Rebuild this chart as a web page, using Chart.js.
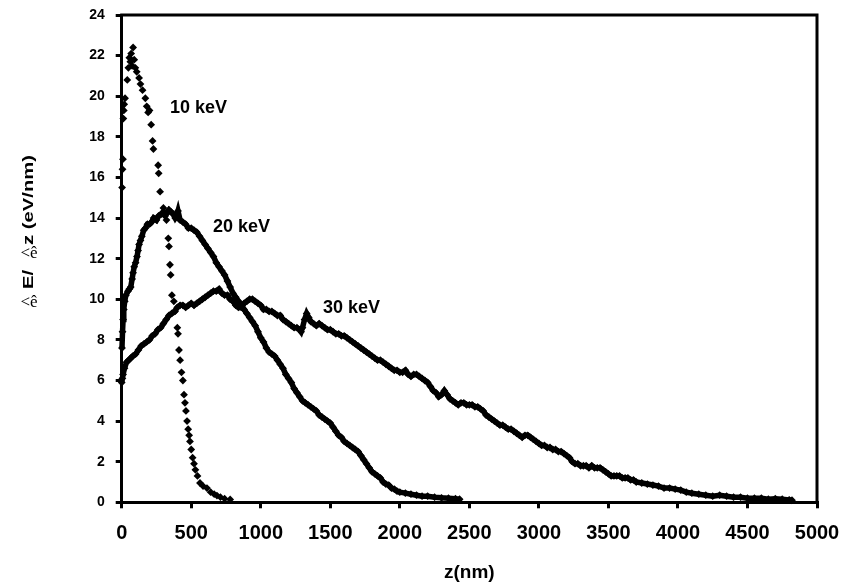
<!DOCTYPE html>
<html>
<head>
<meta charset="utf-8">
<script src="https://cdn.jsdelivr.net/npm/chart.js@4/dist/chart.umd.min.js"></script>
<style>
  html, body { margin: 0; padding: 0; background: #fff; }
  canvas { display: block; }
</style>
</head>
<body>
<canvas id="c" width="841" height="586"></canvas>
<script>
// Energy loss per unit depth, dE/dz (eV/nm), versus depth z (nm)
const kev10 = [
  [3,15.5],[6,16.4],[9,16.9],[12,18.9],[15,19.3],[18,19.6],[24,19.9],
  [40,20.8],[48,21.4],[55,21.9],[62,21.7],[68,22.1],[75,21.5],[82,22.4],[90,21.8],[98,21.4],[108,21.2],
  [125,20.9],[135,20.6],[150,20.3],[170,19.9],[180,19.5],[190,19.2],[200,19.3],[212,18.6],[222,17.8],[228,17.4],
  [262,16.6],[266,16.2],[276,15.3],[300,14.5],[312,14.1],[322,13.9],[335,13.0],[340,12.6],[347,11.7],[352,11.2],
  [361,10.2],[375,9.9],[383,9.4],[400,8.6],[405,8.3],[412,7.5],[420,7.0],[430,6.4],[440,6.0],[448,5.3],
  [455,4.9],[462,4.5],[470,4.0],[478,3.6],[485,3.3],[491,3.0],[500,2.6],[510,2.2],[520,1.9],[530,1.6],
  [545,1.3],[563,0.95],[585,0.8],[613,0.7],[640,0.5],[665,0.4],[685,0.33],[710,0.25],[740,0.18],[780,0.14]
];

const kev20 = [
  [2,7.6],[6,8.4],[10,9.0],[15,9.5],[22,9.9],[30,10.2],[45,10.4],[55,10.5],[65,10.6],[75,11.0],
  [82,11.3],[90,11.6],[100,11.8],[110,12.1],[118,12.4],[125,12.7],[135,12.9],[145,13.1],[158,13.4],[170,13.5],
  [185,13.7],[200,13.7],[215,13.8],[230,14.0],[250,13.9],[265,14.1],[285,14.2],[300,14.3],[320,14.2],[340,14.4],
  [355,14.3],[370,14.2],[385,14.0],[395,14.1],[405,14.35],[420,13.9],[440,13.8],[460,13.7],[480,13.5],[500,13.5],
  [520,13.4],[540,13.3],[560,13.1],[580,12.9],[600,12.7],[620,12.5],[640,12.3],[660,12.1],[680,11.8],[700,11.6],
  [720,11.4],[740,11.2],[760,10.9],[780,10.6],[800,10.3],[820,10.1],[840,9.9],[860,9.7],[880,9.5],[900,9.3],
  [920,9.1],[940,8.9],[960,8.7],[980,8.4],[1000,8.1],[1020,7.9],[1040,7.6],[1060,7.4],[1080,7.3],[1100,7.2],
  [1120,7.0],[1140,6.8],[1160,6.6],[1180,6.3],[1200,6.1],[1220,5.9],[1240,5.6],[1260,5.4],[1280,5.2],[1300,5.0],
  [1320,4.9],[1340,4.8],[1360,4.7],[1380,4.6],[1400,4.5],[1420,4.3],[1440,4.2],[1460,4.1],[1480,4.0],[1500,3.9],
  [1520,3.7],[1540,3.5],[1560,3.3],[1580,3.2],[1600,3.0],[1620,2.9],[1640,2.8],[1660,2.7],[1680,2.6],[1700,2.5],
  [1720,2.3],[1740,2.1],[1760,1.9],[1780,1.7],[1800,1.5],[1820,1.4],[1840,1.3],[1860,1.2],[1880,1.0],[1900,0.9],
  [1920,0.85],[1940,0.7],[1960,0.65],[1980,0.55],[2000,0.5],[2040,0.45],[2080,0.4],[2120,0.35],[2160,0.3],[2200,0.3],
  [2250,0.25],[2300,0.22],[2350,0.2],[2400,0.18],[2430,0.15]
];

const kev30 = [
  [0,5.9],[5,6.1],[10,6.3],[20,6.6],[35,6.9],[50,7.0],[65,7.1],[80,7.2],[100,7.3],[120,7.5],
  [140,7.7],[160,7.8],[180,7.9],[200,8.0],[220,8.2],[240,8.3],[260,8.5],[280,8.6],[300,8.8],[320,9.0],
  [340,9.2],[360,9.3],[380,9.4],[400,9.6],[420,9.7],[440,9.7],[460,9.6],[480,9.7],[500,9.8],[520,9.7],
  [540,9.8],[560,9.9],[580,10.0],[600,10.1],[620,10.2],[640,10.3],[660,10.4],[680,10.4],[700,10.5],[720,10.3],
  [740,10.2],[760,10.2],[780,10.0],[800,9.9],[820,9.7],[840,9.6],[860,9.6],[880,9.8],[900,9.9],[920,10.0],
  [940,10.0],[960,9.9],[980,9.8],[1000,9.7],[1020,9.5],[1040,9.5],[1060,9.4],[1080,9.4],[1100,9.3],[1120,9.2],
  [1140,9.2],[1160,9.0],[1180,8.9],[1200,8.8],[1220,8.7],[1240,8.6],[1260,8.6],[1280,8.5],[1290,8.4],[1300,8.6],
  [1315,9.0],[1330,9.3],[1345,9.1],[1360,8.9],[1380,8.8],[1400,8.7],[1420,8.8],[1440,8.7],[1460,8.6],[1480,8.5],
  [1500,8.5],[1520,8.4],[1540,8.3],[1560,8.3],[1580,8.2],[1600,8.2],[1620,8.1],[1640,8.0],[1660,7.9],[1680,7.8],
  [1700,7.7],[1720,7.6],[1740,7.5],[1760,7.4],[1780,7.3],[1800,7.2],[1820,7.1],[1840,7.0],[1860,7.0],[1880,6.9],
  [1900,6.8],[1920,6.7],[1940,6.6],[1960,6.5],[1980,6.5],[2000,6.4],[2020,6.4],[2040,6.5],[2060,6.3],[2080,6.2],
  [2100,6.3],[2120,6.3],[2140,6.2],[2160,6.1],[2180,6.0],[2200,5.9],[2220,5.7],[2240,5.5],[2260,5.4],[2280,5.2],
  [2300,5.3],[2320,5.5],[2340,5.3],[2360,5.1],[2380,5.0],[2400,4.9],[2420,4.8],[2440,4.9],[2460,4.9],[2480,4.8],
  [2500,4.8],[2520,4.8],[2540,4.7],[2560,4.7],[2580,4.6],[2600,4.5],[2620,4.3],[2640,4.2],[2660,4.1],[2680,4.0],
  [2700,3.9],[2720,3.8],[2740,3.8],[2760,3.7],[2780,3.6],[2800,3.6],[2820,3.5],[2840,3.4],[2860,3.3],[2880,3.2],
  [2900,3.3],[2920,3.3],[2940,3.2],[2960,3.1],[2980,3.0],[3000,2.9],[3020,2.8],[3040,2.8],[3060,2.7],[3080,2.7],
  [3100,2.6],[3120,2.6],[3140,2.5],[3160,2.5],[3180,2.4],[3200,2.3],[3220,2.2],[3240,2.0],[3260,1.9],[3280,1.9],
  [3300,1.8],[3320,1.8],[3340,1.8],[3360,1.7],[3380,1.8],[3400,1.7],[3420,1.7],[3440,1.7],[3460,1.6],[3480,1.5],
  [3500,1.4],[3520,1.3],[3540,1.3],[3560,1.3],[3580,1.3],[3600,1.2],[3620,1.2],[3640,1.2],[3660,1.1],[3680,1.1],
  [3700,1.0],[3740,0.95],[3780,0.9],[3820,0.85],[3860,0.8],[3900,0.7],[3940,0.7],[3980,0.65],[4020,0.6],[4060,0.5],
  [4100,0.45],[4150,0.4],[4200,0.35],[4250,0.3],[4300,0.35],[4350,0.3],[4400,0.25],[4450,0.25],[4500,0.2],[4550,0.2],
  [4600,0.2],[4650,0.15],[4700,0.18],[4750,0.15],[4800,0.12],[4820,0.1]
];

const seriesNames = ['10 keV', '20 keV', '30 keV'];
// where each series name is written, in axis units (left edge, vertical centre)
const labelAnchors = [[347, 19.4], [656, 13.55], [1447, 9.55]];

const SANS = '"Liberation Sans", Arial, Helvetica, sans-serif';
const NARROW = '"Liberation Sans Narrow", "Arial Narrow", "Liberation Sans", Arial, sans-serif';
const SERIF = '"Liberation Serif", "Times New Roman", serif';

const toXY = arr => arr.map(([x, y]) => ({ x, y }));

const frame = {
  id: 'frame',
  afterDatasetsDraw(chart) {
    const { ctx, chartArea: a } = chart;
    ctx.save();
    ctx.strokeStyle = '#000';
    ctx.lineWidth = 3;
    ctx.lineCap = 'square';
    ctx.beginPath();
    ctx.moveTo(a.left, a.top);
    ctx.lineTo(a.right, a.top);
    ctx.lineTo(a.right, a.bottom);
    ctx.stroke();
    ctx.restore();
  }
};

const seriesLabels = {
  id: 'seriesLabels',
  afterDatasetsDraw(chart) {
    const { ctx, scales } = chart;
    ctx.save();
    ctx.fillStyle = '#000';
    ctx.font = 'bold 18px ' + SANS;
    ctx.textAlign = 'left';
    ctx.textBaseline = 'middle';
    seriesNames.forEach((name, i) => {
      const [vx, vy] = labelAnchors[i];
      ctx.fillText(name, scales.x.getPixelForValue(vx), scales.y.getPixelForValue(vy));
    });
    ctx.restore();
  }
};

// vertical axis title: rotated words with the delta glyphs set upright
const yTitle = {
  id: 'yTitle',
  afterDraw(chart) {
    const ctx = chart.ctx;
    const cx = 29;
    const stretch = 1.35;
    const run = (text, yStart) => {
      ctx.save();
      ctx.translate(cx, yStart);
      ctx.rotate(-Math.PI / 2);
      ctx.scale(stretch, 1);
      ctx.font = 'bold 15px ' + SANS;
      ctx.fillStyle = '#000';
      ctx.textAlign = 'left';
      ctx.textBaseline = 'middle';
      ctx.fillText(text, 0, 0);
      ctx.restore();
    };
    const glyph = (yc) => {
      ctx.save();
      ctx.font = '17px ' + SERIF;
      ctx.fillStyle = '#000';
      ctx.textAlign = 'center';
      ctx.textBaseline = 'middle';
      ctx.fillText('<ê', cx, yc);
      ctx.restore();
    };
    glyph(303);
    run('E/', 289);
    glyph(254);
    run('z (eV/nm)', 245);
  }
};

const makeSeries = (label, pts, withLine) => ({
  label,
  data: toXY(pts),
  showLine: withLine,
  borderColor: '#000',
  borderWidth: withLine ? 5.5 : 0,
  backgroundColor: '#000',
  pointStyle: 'rectRot',
  pointRadius: 3.9,
  pointBorderWidth: 0,
  pointHoverRadius: 3.9,
  tension: 0,
  clip: 8
});

new Chart(document.getElementById('c'), {
  type: 'scatter',
  data: {
    datasets: [
      makeSeries(seriesNames[0], kev10, false),
      makeSeries(seriesNames[1], kev20, true),
      makeSeries(seriesNames[2], kev30, true)
    ]
  },
  options: {
    responsive: false,
    animation: false,
    devicePixelRatio: 1,
    layout: { padding: { top: 15, right: 24, left: 0, bottom: 0 } },
    plugins: {
      legend: { display: false },
      tooltip: { enabled: false }
    },
    scales: {
      x: {
        type: 'linear',
        min: 0,
        max: 5000,
        afterFit(s) { s.height = 83.7; s.paddingLeft = 0; s.paddingRight = 0; },
        ticks: {
          stepSize: 500,
          autoSkip: false,
          maxRotation: 0,
          color: '#000',
          padding: 13,
          callback: v => String(v),
          font: { family: NARROW, size: 20, weight: 'bold' }
        },
        grid: { drawOnChartArea: false, drawTicks: true, tickLength: 6, lineWidth: 3, color: '#000' },
        border: { display: true, width: 3, color: '#000' },
        title: {
          display: true,
          text: 'z(nm)',
          color: '#000',
          padding: { top: 0, bottom: 2 },
          font: { family: SANS, size: 19, weight: 'bold' }
        }
      },
      y: {
        type: 'linear',
        min: 0,
        max: 24,
        afterFit(s) { s.width = 121.7; s.paddingTop = 0; s.paddingBottom = 0; },
        ticks: {
          stepSize: 2,
          color: '#000',
          padding: 11,
          font: { family: SANS, size: 14, weight: 'bold' }
        },
        grid: { drawOnChartArea: false, drawTicks: true, tickLength: 6, lineWidth: 3, color: '#000' },
        border: { display: true, width: 3, color: '#000' }
      }
    }
  },
  plugins: [frame, seriesLabels, yTitle]
});
</script>
</body>
</html>
